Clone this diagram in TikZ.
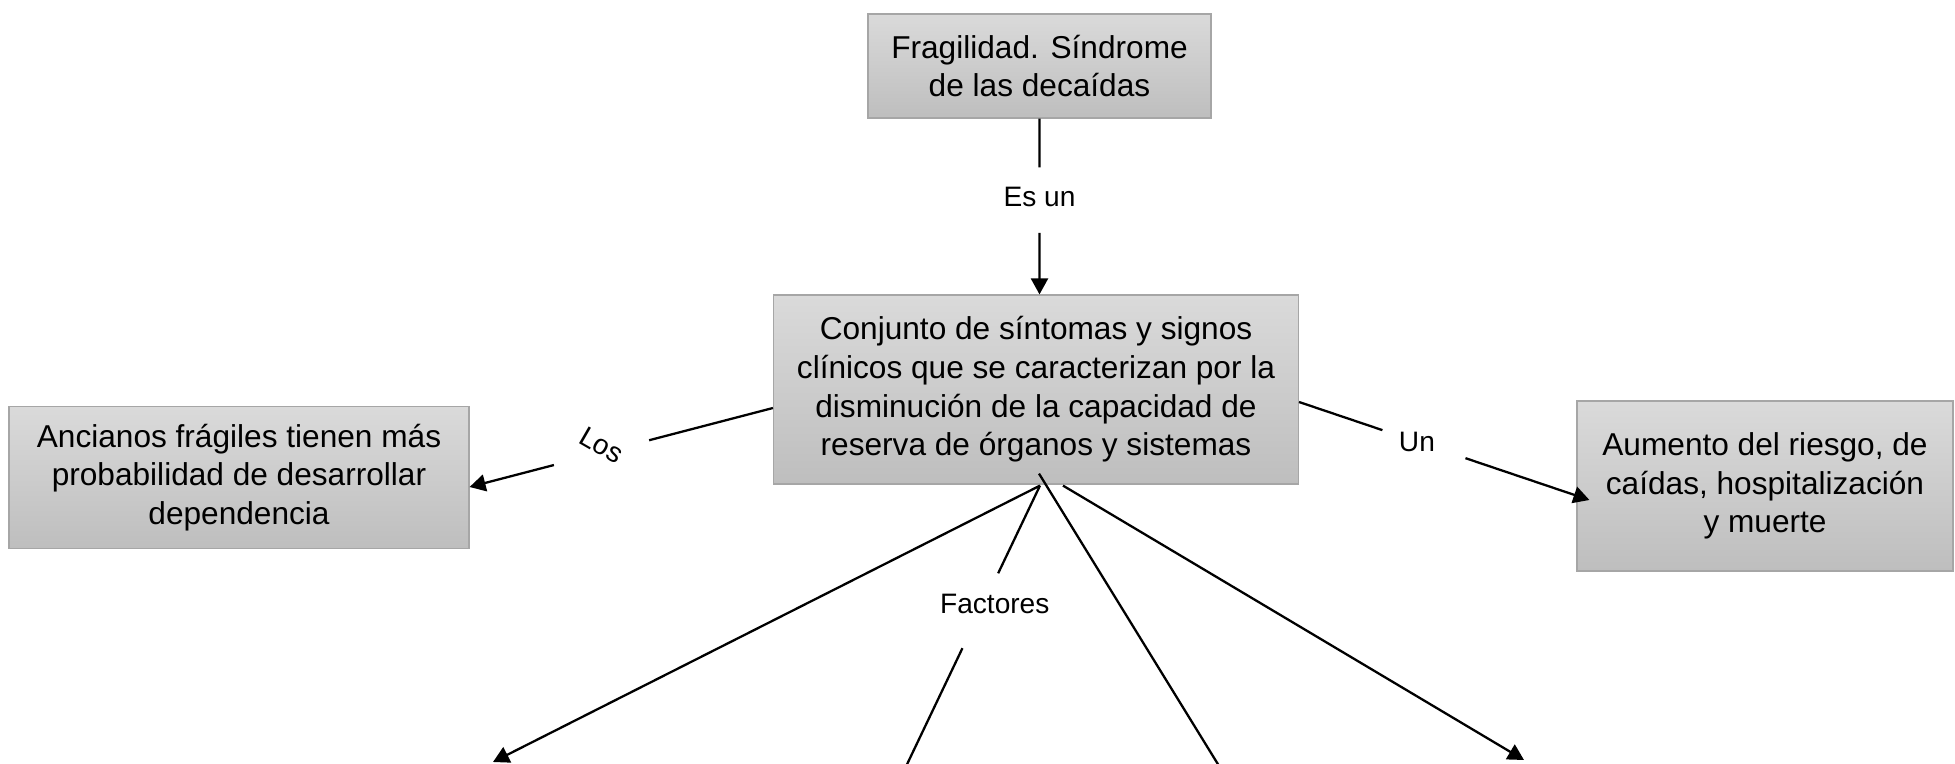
\documentclass[tikz,border=0pt]{standalone}
\usepackage{fontspec}
\setmainfont{Liberation Sans}
\usetikzlibrary{calc,arrows.meta}
\definecolor{boxtop}{RGB}{218,218,218}
\definecolor{boxbot}{RGB}{190,190,190}
\definecolor{boxedge}{RGB}{166,166,166}
\begin{document}
\begin{tikzpicture}[x=0.02cm,y=-0.02cm,
  box/.style={draw=boxedge, line width=0.7pt, top color=boxtop, bottom color=boxbot,
    align=center, font=\fontsize{18}{22}\selectfont, inner sep=0pt},
  lbl/.style={font=\fontsize{16}{19}\selectfont, inner sep=0pt},
  conn/.style={line width=1.3pt, draw=black},
  arr/.style={conn, -{Triangle[length=0.32cm,width=0.34cm]}}]
\useasboundingbox (0,0) rectangle (1955,764);
\clip (0,0) rectangle (1955,764);

% boxes
\node[box, minimum width=6.86cm, minimum height=2.08cm] (top) at (1039.5,66)
  {Fragilidad. Síndrome\\de las decaídas};
\node[box, minimum width=10.5cm, minimum height=3.78cm] (central) at (1036,389.5)
  {Conjunto de síntomas y signos\\clínicos que se caracterizan por la\\disminución de la capacidad de\\reserva de órganos y sistemas};
\node[box, minimum width=9.2cm, minimum height=2.84cm] (left) at (239,477.5)
  {Ancianos frágiles tienen más\\probabilidad de desarrollar\\dependencia};
\node[box, minimum width=7.52cm, minimum height=3.4cm] (right) at (1765,486)
  {Aumento del riesgo, de\\caídas, hospitalización\\y muerte};

% end points
\coordinate (esS) at (top.south);
\coordinate (esE) at (central.north -| top.south);
\coordinate (losS) at ([yshift=-0.37cm]central.west);
\coordinate (losE) at ([yshift=-0.19cm]left.east);
\coordinate (unS) at ([yshift=-0.25cm]central.east);
\coordinate (unE) at ([xshift=0.26cm,yshift=-0.28cm]right.west);
\coordinate (fS) at ([xshift=0.08cm,yshift=-0.02cm]central.south);
\coordinate (fC) at ([xshift=0.06cm,yshift=0.22cm]central.south);
\coordinate (fD) at ([xshift=0.54cm,yshift=-0.02cm]central.south);
\coordinate (tA) at (493,762);
\coordinate (tB) at (890,800);
\coordinate (tC) at (1240,800);
\coordinate (tD) at (1524,760);

% Es un
\node[lbl] (esun) at ($(esS)!0.446!(esE)$) {Es un};
\draw[conn] (esS) -- ($(esS)!0.277!(esE)$);
\draw[arr] ($(esS)!0.650!(esE)$) -- (esE);

% Los
\node[lbl, rotate=-30] (los) at ([yshift=0.15cm]$(losS)!0.565!(losE)$) {Los};
\draw[conn] (losS) -- ($(losS)!0.408!(losE)$);
\draw[arr] ($(losS)!0.722!(losE)$) -- (losE);

% Un
\node[lbl] (un) at ($(unS)!0.406!(unE)$) {Un};
\draw[conn] (unS) -- ($(unS)!0.287!(unE)$);
\draw[arr] ($(unS)!0.573!(unE)$) -- (unE);

% Factores
\node[lbl] (fact) at ([xshift=0.22cm]$(fS)!0.375!(tB)$) {Factores};
\draw[conn] (fS) -- ($(fS)!0.279!(tB)$);
\draw[arr] ($(fS)!0.517!(tB)$) -- (tB);

% other branches
\draw[arr] (fS) -- (tA);
\draw[arr] (fC) -- (tC);
\draw[arr] (fD) -- (tD);
\end{tikzpicture}
\end{document}
